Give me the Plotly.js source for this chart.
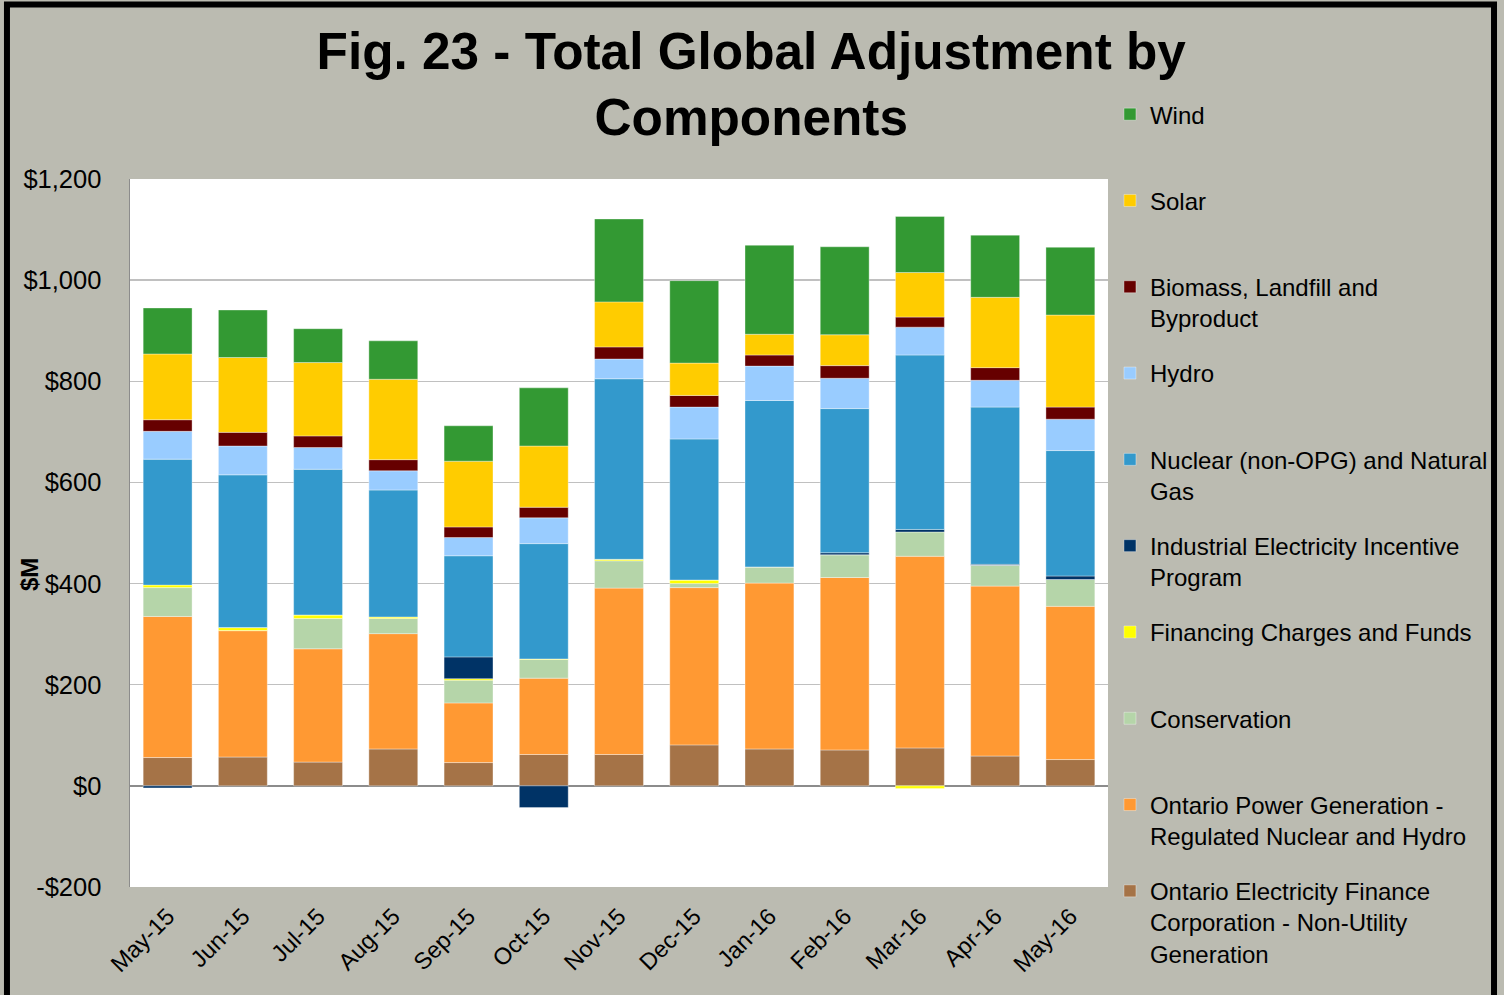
<!DOCTYPE html>
<html>
<head>
<meta charset="utf-8">
<script src="https://cdn.plot.ly/plotly-3.0.1.min.js"></script>
<style>
  body { margin: 0; padding: 0; background: #BBBBB1; }
  #myDiv { width: 1504px; height: 995px; }
</style>
</head>
<body>
<div id="myDiv"></div>
<script>
var months = ['May-15', 'Jun-15', 'Jul-15', 'Aug-15', 'Sep-15', 'Oct-15', 'Nov-15',
              'Dec-15', 'Jan-16', 'Feb-16', 'Mar-16', 'Apr-16', 'May-16'];

// $M per component
var oefc         = [56, 57, 47, 73, 46, 62, 62, 81, 73, 71, 75, 59, 52];
var opg          = [279, 250, 224, 228, 118, 151, 329, 311, 328, 341, 379, 336, 303];
var conservation = [57, 0, 60, 30, 45, 37, 54, 8, 32, 45, 48, 41, 53];
var financing    = [5, 6, 7, 3, 3, 1, 3, 7, 0, 0, -5, 0, 0];
var industrial   = [-4, 0, 0, 0, 43, -43, 0, 0, 0, 4, 5, 2, 7];
var nuclear      = [249, 302, 288, 251, 200, 228, 357, 279, 329, 285, 345, 311, 248];
var hydro        = [55, 57, 43, 38, 36, 51, 39, 63, 68, 60, 55, 53, 62];
var biomass      = [23, 27, 23, 22, 21, 21, 24, 23, 22, 25, 20, 25, 24];
var solar        = [130, 148, 145, 159, 130, 121, 89, 64, 41, 61, 88, 139, 182];
var wind         = [91, 94, 67, 76, 70, 115, 164, 163, 176, 174, 111, 123, 134];

var yTickVals = [-200, 0, 200, 400, 600, 800, 1000, 1200];
var yTickText = ['-$200', '$0', '$200', '$400', '$600', '$800', '$1,000', '$1,200'];

// rank = position in legend, top first (legend lists top of stack first)
function bar(name, y, color, rank) {
  return {
    x: months,
    y: y,
    type: 'bar',
    name: name,
    legendgroup: 'g' + rank,
    legendrank: rank,
    marker: {color: color, line: {color: 'rgba(255,255,255,0.45)', width: 0.8}},
    hoverinfo: 'x+y+name'
  };
}

var data = [
  bar('Ontario Electricity Finance<br>Corporation - Non-Utility<br>Generation', oefc, '#A57347', 10),
  bar('Ontario Power Generation -<br>Regulated Nuclear and Hydro', opg, '#FF9933', 9),
  bar('Conservation<br>&nbsp;', conservation, '#B5D5A9', 8),
  bar('Financing Charges and Funds<br>&nbsp;', financing, '#FFFF00', 7),
  bar('Industrial Electricity Incentive<br>Program', industrial, '#003366', 6),
  bar('Nuclear (non-OPG) and Natural<br>Gas', nuclear, '#3399CC', 5),
  bar('Hydro<br>&nbsp;', hydro, '#99CCFF', 4),
  bar('Biomass, Landfill and<br>Byproduct', biomass, '#660000', 3),
  bar('Solar<br>&nbsp;', solar, '#FFCC00', 2),
  bar('Wind<br>&nbsp;', wind, '#339933', 1)
];

var layout = {
  width: 1504,
  height: 995,
  barmode: 'relative',
  bargap: 0.35,
  paper_bgcolor: '#BBBBB1',
  plot_bgcolor: '#FFFFFF',
  font: {family: 'Liberation Sans, Arial, sans-serif', color: '#000000', size: 23},
  margin: {l: 130, r: 396, t: 179, b: 108, autoexpand: false},
  title: {
    text: '<b>Fig. 23 - Total Global Adjustment by<br>Components</b>',
    font: {size: 51.3, family: 'Liberation Sans, Arial, sans-serif', color: '#000000'},
    x: 0.4995, xref: 'container', xanchor: 'center',
    y: 0.931, yref: 'container', yanchor: 'top'
  },
  xaxis: {
    type: 'category',
    tickangle: -45,
    tickfont: {size: 23.5},
    ticks: '',
    ticklabelstandoff: 10,
    showgrid: false,
    showline: false,
    zeroline: false
  },
  yaxis: {
    range: [-200, 1200],
    tickvals: yTickVals,
    ticktext: yTickText,
    tickfont: {size: 25.5},
    ticks: '',
    ticklabelstandoff: 22,
    showgrid: true,
    gridcolor: '#C0C0C0',
    gridwidth: 1.5,
    zeroline: true,
    zerolinecolor: '#8C8C8C',
    zerolinewidth: 1.5,
    showline: true,
    linecolor: '#8C8C8C',
    linewidth: 1.5
  },
  legend: {
    x: 1.002,
    xanchor: 'left',
    y: 1.1228,
    yanchor: 'top',
    traceorder: 'grouped',
    tracegroupgap: 20.9,
    valign: 'top',
    maxheight: 950,
    bgcolor: 'rgba(0,0,0,0)',
    font: {size: 24}
  },
  annotations: [{
    text: '<b>$M</b>',
    xref: 'paper', yref: 'paper',
    x: -0.1022, y: 0.4407,
    xanchor: 'center', yanchor: 'middle',
    textangle: -90,
    showarrow: false,
    font: {size: 24}
  }],
  shapes: [{
    type: 'rect', xref: 'paper', yref: 'paper',
    x0: -0.1258, x1: 1.3947, y0: -0.2, y1: 1.2465,
    line: {color: '#000000', width: 6},
    fillcolor: 'rgba(0,0,0,0)'
  }]
};

Plotly.newPlot('myDiv', data, layout, {displayModeBar: false, staticPlot: true});
</script>
</body>
</html>
